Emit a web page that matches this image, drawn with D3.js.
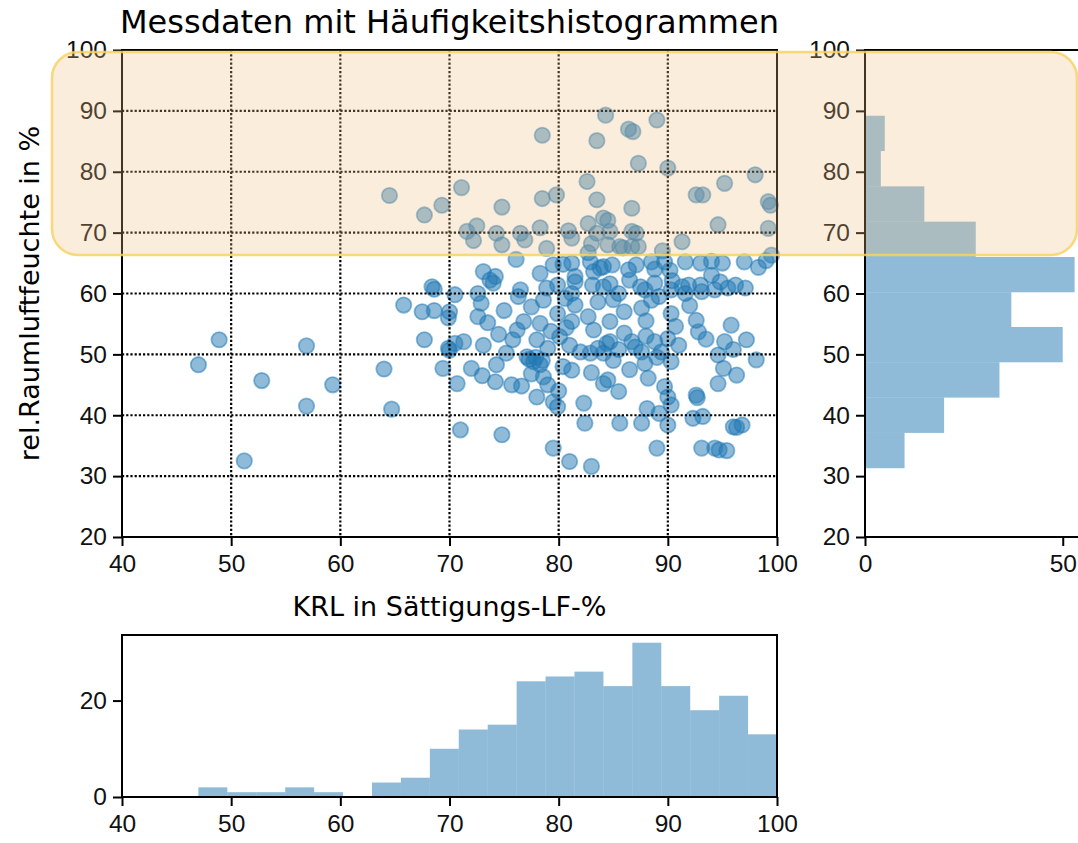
<!DOCTYPE html>
<html>
<head>
<meta charset="utf-8">
<script src="https://cdn.jsdelivr.net/npm/d3@7.9.0/dist/d3.min.js"></script>
<style>
  body { margin: 0; background: #fff; }
  svg { display: block; font-family: "DejaVu Sans", sans-serif; }
  .tick text { font-size: 24.5px; fill: #111; }
  .tick line, .domain { stroke: #000; stroke-width: 2; }
</style>
</head>
<body>
<svg id="chart" width="1078" height="843"></svg>
<script>
// measured data: KRL (x) and rel. humidity (y)
const krl = [
  78.5, 83.5, 84.3, 86.4, 86.8, 89.0, 82.6, 87.3, 90.0, 95.2, 98.0, 64.5, 67.7, 69.3, 71.1, 74.8,
  78.5, 79.8, 83.5, 84.1, 84.5, 86.7, 92.6, 93.2, 99.2, 99.4,
  71.6, 72.5, 72.2, 74.3, 74.8, 76.5, 76.9, 78.3, 78.9, 80.9, 81.2, 82.7, 83.5, 83.0, 84.5, 84.7,
  85.6, 86.7, 87.1, 86.7, 87.3, 91.3, 94.6, 99.2, 82.7, 85.9, 89.5, 99.5,
  76.1, 73.1, 74.2, 78.3, 79.5, 81.2, 81.5, 83.2, 84.1, 74.0, 78.9, 84.1, 87.9, 90.3, 93.1, 94.3,
  95.5, 91.9, 68.4, 68.6, 88.5, 89.7, 91.6, 93.0, 94.0, 95.0, 97.0, 99.0, 98.3, 88.8, 90.2, 94.0,
  80.4, 82.9, 83.8, 84.9, 86.4, 87.1, 79.9, 81.5, 83.1, 86.5, 88.8, 90.4, 93.0, 94.8, 96.2, 73.7,
  76.5, 84.7, 87.5, 91.3, 97.1,
  70.5, 70.0, 72.6, 72.9, 72.6, 73.5, 76.3, 76.8, 78.3, 78.6, 79.9, 81.5, 81.2, 82.7, 81.2, 85.5,
  88.5, 87.6, 91.6, 84.7, 90.3, 90.7, 92.6, 95.8, 65.8, 67.5, 68.6, 69.9, 75.0, 77.5, 83.6, 86.0,
  89.2, 92.0, 85.0, 80.6, 88.0,
  70.5, 71.3, 70.0, 73.1, 75.2, 75.8, 76.2, 77.1, 77.7, 78.0, 79.0, 80.1, 80.7, 83.2, 82.0, 82.9,
  83.6, 84.4, 90.0, 92.8, 95.2, 97.2, 94.6, 98.1, 86.7, 84.7, 87.6, 88.8, 89.4, 90.3, 84.1, 67.7,
  69.9, 48.9, 56.9, 77.3, 77.9, 78.5, 74.5, 79.3, 81.0, 85.5, 86.0, 87.0, 88.0, 89.0, 91.0, 93.5,
  96.0, 85.0,
  69.4, 72.0, 70.7, 74.3, 74.2, 75.7, 76.6, 78.3, 78.6, 79.0, 78.0, 80.4, 81.2, 84.1, 87.9, 88.2,
  84.5, 85.5, 89.7, 90.0, 92.6, 92.7, 95.1, 96.3, 94.6, 47.0, 52.8, 59.3, 64.0, 73.0, 77.5, 80.0,
  83.0, 86.5,
  79.5, 79.9, 82.3, 82.4, 71.0, 90.3, 88.1, 89.2, 85.6, 87.6, 90.0, 92.3, 93.2, 96.0, 96.8, 56.9,
  64.7, 96.3,
  51.2, 74.8, 79.5, 81.0, 83.0, 89.0, 93.1, 94.3, 94.7, 95.4
];
const rh = [
  86.0, 85.1, 89.3, 87.0, 86.6, 88.5, 78.4, 81.4, 80.6, 78.1, 79.5, 76.1, 72.9, 74.5, 77.4, 74.2,
  75.6, 76.2, 75.4, 72.4, 72.0, 74.0, 76.2, 76.2, 75.1, 74.5,
  70.2, 71.1, 68.7, 69.9, 68.0, 69.9, 68.8, 70.8, 67.4, 70.3, 69.1, 71.5, 69.9, 68.2, 68.0, 70.2,
  67.7, 70.2, 69.9, 67.7, 67.7, 68.5, 71.3, 70.7, 66.7, 67.5, 67.0, 66.3,
  65.6, 63.6, 62.8, 63.3, 64.7, 65.0, 62.8, 63.6, 64.4, 61.7, 60.9, 61.1, 60.6, 60.6, 60.3, 60.6,
  60.9, 61.4, 61.1, 60.7, 65.2, 65.2, 65.2, 65.0, 65.3, 65.0, 65.2, 65.4, 64.3, 64.0, 63.8, 63.0,
  64.8, 65.2, 64.2, 64.7, 63.9, 64.7, 61.4, 61.9, 61.4, 62.2, 61.7, 62.1, 61.4, 61.9, 61.4, 62.2,
  60.6, 61.6, 61.1, 61.1, 60.9,
  59.8, 57.0, 60.0, 58.4, 56.2, 55.2, 59.5, 55.4, 55.1, 58.9, 56.7, 58.1, 55.4, 56.2, 60.0, 60.0,
  58.9, 57.6, 60.0, 55.4, 56.7, 54.6, 55.6, 54.8, 58.1, 57.0, 57.2, 56.0, 57.2, 57.8, 58.6, 57.0,
  59.5, 58.0, 59.0, 59.2, 55.5,
  51.8, 52.1, 50.7, 51.5, 50.2, 52.4, 54.0, 49.6, 48.8, 52.4, 51.0, 52.9, 54.4, 54.0, 50.4, 50.2,
  51.0, 51.8, 52.6, 53.7, 52.1, 52.4, 49.9, 49.1, 52.1, 52.1, 50.4, 52.1, 50.4, 48.8, 50.2, 52.4,
  51.0, 52.4, 51.4, 49.2, 49.5, 49.0, 53.3, 53.8, 51.5, 50.8, 53.5, 51.2, 53.0, 49.5, 51.5, 52.5,
  50.8, 49.0,
  47.7, 47.7, 45.2, 48.3, 45.5, 45.0, 44.8, 48.3, 46.3, 45.0, 43.0, 48.0, 47.4, 45.2, 48.5, 46.1,
  45.8, 43.9, 44.7, 43.0, 43.3, 42.9, 47.7, 46.6, 45.2, 48.3, 45.7, 45.0, 47.6, 46.5, 46.8, 44.0,
  47.0, 47.5,
  42.2, 41.4, 42.0, 38.7, 37.6, 41.7, 41.1, 40.3, 38.7, 38.7, 38.4, 39.5, 39.8, 38.1, 38.4, 41.5,
  41.0, 38.0,
  32.5, 36.8, 34.6, 32.4, 31.6, 34.6, 34.6, 34.6, 34.3, 34.2
];

// histogram of KRL (bottom)
const krlEdges = [47.0, 49.65, 52.3, 54.95, 57.6, 60.25, 62.9, 65.55, 68.2, 70.85, 73.5,
  76.15, 78.8, 81.45, 84.1, 86.75, 89.4, 92.05, 94.7, 97.35, 100.0];
const krlCounts = [2, 1, 1, 2, 1, 0, 3, 4, 10, 14, 15, 24, 25, 26, 23, 32, 23, 18, 21, 13];

// histogram of humidity (right)
const rhEdges = [31.3, 37.1, 42.9, 48.7, 54.5, 60.2, 66.0, 71.8, 77.6, 83.4, 89.2];
const rhCounts = [10, 20, 34, 50, 37, 53, 28, 15, 4, 5];

const xTicks = [40, 50, 60, 70, 80, 90, 100];
const yTicks = [20, 30, 40, 50, 60, 70, 80, 90, 100];

const blue = '#1f77b4';
const svg = d3.select('#chart');

// main scatter axes
const x = d3.scaleLinear().domain([40, 100]).range([122, 777]);
const y = d3.scaleLinear().domain([20, 100]).range([537, 50]);

const main = svg.append('g');

main.append('g')
  .selectAll('circle')
  .data(krl.map((k, i) => [k, rh[i]]))
  .join('circle')
  .attr('cx', d => x(d[0]))
  .attr('cy', d => y(d[1]))
  .attr('r', 7.7)
  .attr('fill', blue)
  .attr('fill-opacity', 0.5)
  .attr('stroke', blue)
  .attr('stroke-opacity', 0.5)
  .attr('stroke-width', 1.8);

// dotted grid (drawn above the points like matplotlib)
const grid = main.append('g')
  .attr('stroke', '#000')
  .attr('stroke-width', 2.2)
  .attr('stroke-dasharray', '2.2,2');
grid.selectAll('.gx').data(xTicks.slice(1, -1)).join('line')
  .attr('x1', d => x(d)).attr('x2', d => x(d))
  .attr('y1', y(100)).attr('y2', y(20));
grid.selectAll('.gy').data(yTicks.slice(1, -1)).join('line')
  .attr('y1', d => y(d)).attr('y2', d => y(d))
  .attr('x1', x(40)).attr('x2', x(100));

function frame(g, x0, x1, y0, y1) {
  g.append('rect')
    .attr('x', x0).attr('y', y0)
    .attr('width', x1 - x0).attr('height', y1 - y0)
    .attr('fill', 'none').attr('stroke', '#000').attr('stroke-width', 2);
}

frame(main, 122, 777, 50, 537);

main.append('g')
  .attr('transform', 'translate(0,537)')
  .call(d3.axisBottom(x).tickValues(xTicks).tickSize(9).tickPadding(9))
  .call(g => g.select('.domain').remove());
main.append('g')
  .attr('transform', 'translate(122,0)')
  .call(d3.axisLeft(y).tickValues(yTicks).tickSize(9).tickPadding(6))
  .call(g => g.select('.domain').remove());

main.append('text')
  .attr('x', 449.5).attr('y', 616)
  .attr('text-anchor', 'middle')
  .attr('font-size', 27)
  .text('KRL in Sättigungs-LF-%');

main.append('text')
  .attr('transform', 'translate(39,293.5) rotate(-90)')
  .attr('text-anchor', 'middle')
  .attr('font-size', 27)
  .text('rel.Raumluftfeuchte in %');

svg.append('text')
  .attr('x', 449.5).attr('y', 33)
  .attr('text-anchor', 'middle')
  .attr('font-size', 32)
  .text('Messdaten mit Häufigkeitshistogrammen');

// right histogram
const sx = d3.scaleLinear().domain([0, 55.65]).range([865, 865 + 55.65 * 3.955]);
const side = svg.append('g');
side.selectAll('rect')
  .data(rhCounts)
  .join('rect')
  .attr('x', sx(0))
  .attr('y', (d, i) => y(rhEdges[i + 1]))
  .attr('width', d => sx(d) - sx(0))
  .attr('height', (d, i) => y(rhEdges[i]) - y(rhEdges[i + 1]))
  .attr('fill', blue)
  .attr('fill-opacity', 0.5);
frame(side, 865, sx(55.65), 50, 537);
side.append('g')
  .attr('transform', 'translate(0,537)')
  .call(d3.axisBottom(sx).tickValues([0, 50]).tickSize(9).tickPadding(9))
  .call(g => g.select('.domain').remove());
side.append('g')
  .attr('transform', 'translate(865,0)')
  .call(d3.axisLeft(y).tickValues(yTicks).tickSize(9).tickPadding(6))
  .call(g => g.select('.domain').remove());

// bottom histogram
const by = d3.scaleLinear().domain([0, 33.6]).range([797, 635]);
const bottom = svg.append('g');
bottom.selectAll('rect')
  .data(krlCounts)
  .join('rect')
  .attr('x', (d, i) => x(krlEdges[i]))
  .attr('y', d => by(d))
  .attr('width', (d, i) => x(krlEdges[i + 1]) - x(krlEdges[i]))
  .attr('height', d => by(0) - by(d))
  .attr('fill', blue)
  .attr('fill-opacity', 0.5);
frame(bottom, 122, 777, 635, 797);
bottom.append('g')
  .attr('transform', 'translate(0,797)')
  .call(d3.axisBottom(x).tickValues(xTicks).tickSize(9).tickPadding(9))
  .call(g => g.select('.domain').remove());
bottom.append('g')
  .attr('transform', 'translate(122,0)')
  .call(d3.axisLeft(by).tickValues([0, 20]).tickSize(9).tickPadding(6))
  .call(g => g.select('.domain').remove());

// highlight band over the upper humidity range
svg.append('rect')
  .attr('x', 52).attr('y', 52)
  .attr('width', 1025).attr('height', 203)
  .attr('rx', 26)
  .attr('fill', 'rgb(240,190,130)')
  .attr('fill-opacity', 0.28)
  .attr('stroke', 'rgb(247,210,100)')
  .attr('stroke-opacity', 0.85)
  .attr('stroke-width', 2.5);
</script>
</body>
</html>
